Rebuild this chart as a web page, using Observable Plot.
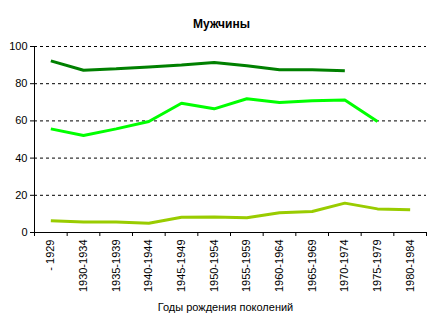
<!DOCTYPE html>
<html><head><meta charset="utf-8">
<script src="https://cdn.jsdelivr.net/npm/d3@7"></script>
<script src="https://cdn.jsdelivr.net/npm/@observablehq/plot@0.6"></script>
<style>body{margin:0;background:#fff;} svg{font-family:"Liberation Sans",Arial,sans-serif;}</style>
</head><body><div id="chart"></div>
<script>
const categories = ["- 1929","1930-1934","1935-1939","1940-1944","1945-1949","1950-1954","1955-1959","1960-1964","1965-1969","1970-1974","1975-1979","1980-1984"];
const seriesDark  = [92.3, 87.2, 88.0, 89.0, 90.0, 91.4, 89.6, 87.5, 87.5, 87.0, null, null];
const seriesLight = [55.7, 52.1, 55.7, 59.7, 69.5, 66.5, 71.9, 69.9, 70.8, 71.3, 59.7, null];
const seriesOlive = [6.3, 5.6, 5.6, 5.0, 8.2, 8.4, 7.9, 10.6, 11.3, 15.8, 12.7, 12.2];
const yTicks = [0, 20, 40, 60, 80, 100];
const gridTicks = [20, 40, 60, 80, 100];
const title = "Мужчины";
const xLabel = "Годы рождения поколений";

const series = [
  {name: "dark", values: seriesDark, color: "#008000"},
  {name: "light", values: seriesLight, color: "#00ff00"},
  {name: "olive", values: seriesOlive, color: "#99cc00"}
];
const rows = [];
for (const s of series) s.values.forEach((v, i) => { if (v != null) rows.push({i, v, s: s.name}); });
const idx = categories.map((_, i) => i);
const bounds = [...idx.map(i => i - 0.5), categories.length - 0.5];

const chart = Plot.plot({
  width: 441, height: 324,
  marginLeft: 34, marginRight: 15, marginTop: 46, marginBottom: 92,
  style: {fontFamily: '"Liberation Sans", Arial, sans-serif', fontSize: "11px", background: "#fff", color: "#000"},
  x: {type: "linear", domain: [-0.5, categories.length - 0.5], axis: null},
  y: {domain: [0, 100], axis: null},
  color: {domain: series.map(s => s.name), range: series.map(s => s.color)},
  marks: [
    Plot.ruleY(gridTicks, {stroke: "#000", strokeDasharray: "3,3", strokeWidth: 1}),
    Plot.axisY({ticks: yTicks, tickSize: 4, tickPadding: 3, fontSize: 11, label: null, stroke: "#000"}),
    Plot.axisX({ticks: bounds, tickSize: 4, tickFormat: () => "", label: null, stroke: "#000"}),
    Plot.axisX({ticks: idx, tickSize: 0, tickPadding: 7, tickRotate: -90, tickFormat: i => categories[i], fontSize: 11, label: null}),
    Plot.ruleX([-0.5], {stroke: "#000"}),
    Plot.ruleY([0], {stroke: "#000"}),
    Plot.line(rows, {x: "i", y: "v", z: "s", stroke: "s", strokeWidth: 3, strokeLinejoin: "miter", strokeLinecap: "butt"}),
    Plot.text([title], {frameAnchor: "top", lineAnchor: "middle", dy: -22, dx: -9, fontWeight: "bold", fontSize: 12}),
    Plot.text([xLabel], {frameAnchor: "bottom", lineAnchor: "middle", dy: 75, dx: -5, fontSize: 11})
  ]
});
document.getElementById("chart").append(chart);
</script>
</body></html>
